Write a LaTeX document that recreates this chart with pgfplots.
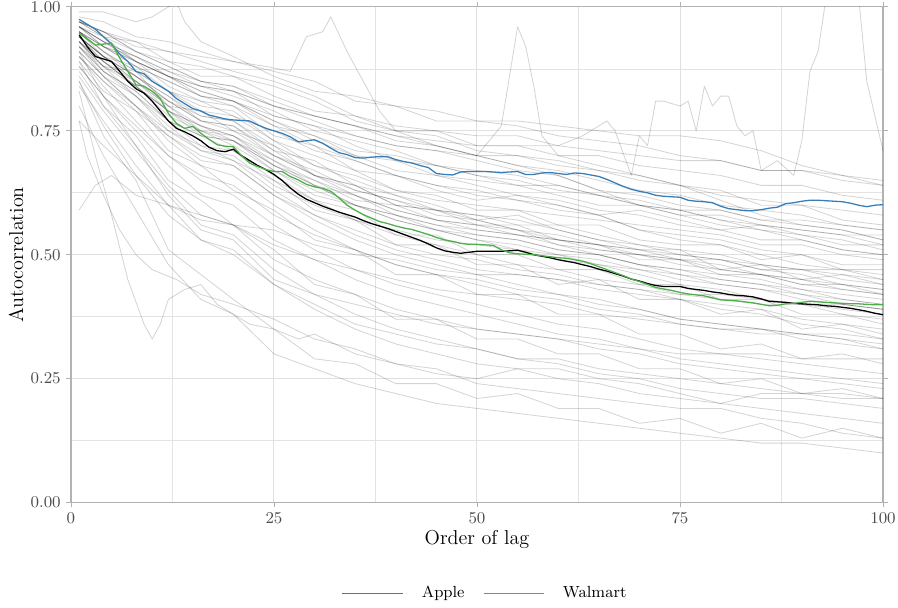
\documentclass[border=0pt]{standalone}
\usepackage{pgfplots}
\usepackage{pgfplotstable}
\pgfplotsset{compat=1.18}
\definecolor{appleblue}{HTML}{377EB8}
\definecolor{walgreen}{HTML}{4DAF4A}

% one row per stock, columns are the lags
\pgfplotstableread[header=has colnames]{
1 4 8 12 16 20 25 30 35 40 45 50 55 60 65 70 75 80 85 90 95 100
.98 .97 .94 .93 .91 .89 .87 .85 .81 .80 .77 .77 .76 .74 .73 .72 .70 .69 .67 .67 .65 .64
.97 .95 .92 .91 .89 .87 .85 .82 .78 .76 .75 .72 .72 .70 .70 .68 .67 .66 .64 .64 .62 .61
.97 .94 .93 .89 .88 .86 .84 .81 .77 .75 .74 .71 .70 .69 .67 .66 .64 .63 .60 .60 .57 .56
.96 .94 .91 .89 .86 .86 .82 .79 .78 .75 .75 .74 .74 .72 .71 .70 .69 .69 .67 .67 .66 .65
.97 .95 .91 .88 .85 .83 .80 .77 .74 .72 .71 .69 .67 .66 .63 .62 .60 .59 .57 .56 .55 .53
.95 .92 .90 .86 .84 .83 .78 .76 .72 .69 .68 .66 .64 .64 .62 .60 .59 .59 .57 .57 .56 .55
.96 .93 .89 .86 .83 .81 .77 .73 .70 .67 .66 .64 .62 .61 .59 .58 .56 .55 .53 .53 .51 .50
.95 .92 .88 .85 .82 .80 .76 .72 .69 .66 .64 .63 .61 .59 .58 .55 .53 .52 .50 .48 .47 .45
.96 .92 .89 .84 .81 .80 .74 .72 .67 .66 .63 .61 .62 .60 .58 .59 .57 .55 .56 .54 .52 .52
.94 .90 .88 .83 .80 .79 .73 .70 .67 .63 .62 .59 .59 .56 .56 .53 .52 .52 .49 .50 .47 .47
.95 .91 .87 .83 .79 .78 .73 .68 .65 .62 .59 .58 .57 .55 .53 .52 .50 .49 .47 .47 .45 .44
.94 .90 .86 .82 .78 .77 .72 .68 .66 .63 .61 .60 .59 .58 .57 .56 .55 .54 .52 .52 .50 .49
.93 .88 .87 .80 .79 .75 .72 .66 .64 .60 .59 .56 .56 .53 .52 .49 .49 .46 .46 .44 .44 .42
.95 .91 .86 .81 .77 .75 .70 .66 .62 .59 .57 .55 .54 .53 .51 .50 .49 .49 .48 .47 .47 .46
.94 .90 .85 .80 .76 .74 .69 .65 .62 .59 .57 .56 .54 .52 .50 .48 .46 .45 .44 .42 .41 .40
.93 .89 .85 .80 .75 .74 .68 .64 .60 .58 .55 .54 .53 .51 .50 .48 .47 .46 .45 .43 .42 .41
.92 .88 .84 .79 .75 .73 .68 .64 .60 .57 .55 .53 .51 .49 .48 .46 .44 .43 .41 .40 .38 .37
.94 .89 .84 .79 .74 .73 .67 .63 .60 .58 .56 .55 .54 .53 .52 .51 .50 .49 .47 .46 .44 .43
.93 .87 .83 .77 .74 .71 .66 .61 .59 .54 .54 .50 .50 .47 .47 .44 .44 .41 .41 .38 .38 .36
.92 .87 .82 .77 .72 .71 .65 .61 .57 .54 .52 .50 .48 .47 .45 .44 .42 .41 .40 .40 .39 .38
.91 .86 .82 .75 .72 .69 .65 .59 .57 .52 .52 .48 .48 .44 .45 .41 .41 .38 .39 .35 .36 .34
.93 .88 .82 .76 .71 .69 .63 .58 .54 .51 .49 .47 .46 .45 .43 .42 .41 .39 .38 .36 .35 .33
.90 .85 .80 .74 .69 .68 .62 .57 .53 .50 .48 .46 .44 .42 .41 .39 .37 .36 .35 .33 .32 .31
.92 .86 .80 .73 .68 .66 .60 .55 .51 .48 .46 .44 .42 .41 .39 .38 .36 .35 .34 .34 .33 .32
.89 .83 .79 .71 .68 .63 .59 .53 .51 .46 .46 .42 .42 .38 .38 .34 .34 .31 .32 .29 .30 .28
.90 .84 .77 .70 .65 .62 .56 .51 .47 .44 .42 .40 .38 .36 .35 .33 .31 .30 .29 .28 .27 .26
.88 .82 .75 .68 .62 .60 .53 .49 .45 .42 .40 .38 .36 .34 .33 .31 .29 .28 .27 .26 .25 .24
.87 .80 .74 .65 .61 .56 .51 .44 .42 .37 .37 .33 .33 .30 .30 .27 .27 .24 .25 .22 .23 .21
.86 .79 .71 .63 .56 .54 .47 .42 .38 .35 .33 .31 .29 .28 .26 .25 .23 .22 .21 .21 .20 .19
.84 .77 .68 .60 .53 .51 .44 .39 .35 .32 .30 .28 .27 .25 .24 .22 .21 .20 .19 .18 .17 .16
.85 .74 .65 .51 .46 .41 .35 .29 .28 .24 .24 .21 .22 .19 .19 .16 .17 .14 .16 .13 .15 .13
.80 .70 .59 .48 .41 .38 .30 .27 .24 .22 .20 .19 .18 .17 .16 .15 .14 .13 .12 .12 .11 .10
.91 .82 .72 .62 .55 .53 .45 .42 .40 .38 .36 .35 .34 .33 .32 .31 .30 .30 .30 .29 .29 .29
.77 .72 .66 .60 .57 .56 .52 .49 .47 .45 .43 .42 .41 .40 .38 .37 .36 .35 .35 .34 .34 .33
.96 .93 .90 .87 .84 .82 .79 .75 .73 .71 .68 .67 .66 .64 .62 .61 .59 .57 .56 .55 .54 .52
.95 .91 .87 .83 .81 .78 .75 .71 .69 .66 .64 .62 .61 .60 .58 .55 .54 .53 .51 .50 .48 .48
.94 .90 .86 .81 .78 .77 .71 .69 .64 .62 .60 .57 .58 .55 .53 .51 .51 .47 .48 .45 .46 .44
.97 .94 .89 .86 .82 .81 .76 .74 .70 .69 .66 .65 .64 .62 .60 .60 .58 .58 .56 .55 .54 .54
.93 .89 .84 .79 .76 .74 .70 .66 .63 .61 .59 .58 .56 .56 .54 .52 .51 .50 .48 .47 .46 .45
.95 .90 .86 .82 .77 .76 .71 .66 .64 .60 .59 .57 .55 .54 .52 .51 .49 .47 .46 .45 .43 .42
.96 .92 .88 .85 .82 .81 .77 .74 .71 .70 .68 .66 .65 .63 .62 .60 .59 .57 .55 .54 .53 .51
.94 .89 .84 .78 .75 .72 .67 .62 .60 .57 .55 .53 .52 .50 .49 .47 .46 .44 .43 .42 .40 .39
.92 .87 .83 .77 .74 .73 .68 .65 .61 .60 .57 .56 .55 .52 .51 .50 .48 .47 .46 .44 .43 .42
.95 .92 .89 .86 .84 .83 .80 .78 .76 .73 .72 .70 .68 .67 .65 .63 .62 .60 .59 .58 .56 .55
.93 .88 .85 .79 .76 .73 .69 .64 .62 .58 .56 .54 .53 .51 .50 .48 .47 .45 .44 .43 .41 .40
.91 .86 .80 .75 .71 .70 .64 .60 .57 .55 .53 .52 .51 .50 .48 .47 .45 .44 .43 .41 .40 .39
.96 .93 .90 .87 .85 .84 .81 .78 .76 .74 .72 .70 .70 .68 .67 .65 .64 .62 .61 .60 .59 .58
.94 .90 .85 .81 .77 .76 .70 .67 .63 .61 .58 .57 .55 .53 .52 .50 .49 .48 .46 .45 .44 .43
.90 .85 .79 .74 .70 .68 .62 .58 .55 .52 .50 .49 .47 .46 .44 .43 .41 .40 .39 .37 .36 .35
.88 .82 .76 .70 .66 .64 .58 .54 .51 .48 .46 .45 .43 .42 .40 .39 .37 .36 .35 .34 .33 .31
.89 .80 .72 .64 .58 .56 .49 .45 .42 .39 .37 .35 .34 .33 .31 .30 .28 .27 .26 .25 .24 .23
.85 .76 .66 .58 .53 .50 .44 .40 .36 .34 .32 .31 .29 .29 .27 .26 .25 .24 .23 .22 .22 .21
}\greyraw
\pgfplotstabletranspose{\greylines}{\greyraw}

\pgfplotsset{greyline/.style={draw=black, opacity=0.17, line width=0.45pt, line join=round, mark=none, forget plot}}

\begin{document}
\begin{tikzpicture}
\begin{axis}[
  scale only axis, width=444pt, height=271pt,
  xmin=0, xmax=100, ymin=0, ymax=1,
  xtick={0,25,50,75,100}, ytick={0,0.25,0.5,0.75,1},
  minor xtick={12.5,37.5,62.5,87.5}, minor ytick={0.125,0.375,0.625,0.875},
  grid=both,
  major grid style={draw=black!12, line width=0.55pt},
  minor grid style={draw=black!11, line width=0.35pt},
  axis line style={draw=black!30, line width=0.6pt},
  tick style={draw=black!30, line width=0.5pt},
  tick align=outside, major tick length=2.5pt, minor tick length=0pt,
  ticklabel style={font=\fontsize{8.8}{10}\selectfont, text=black!70, inner sep=0.5pt},
  xticklabel style={yshift=-2.4pt},
  yticklabel style={xshift=-2.4pt, /pgf/number format/.cd, fixed, fixed zerofill, precision=2},
  label style={font=\fontsize{11}{13}\selectfont},
  xlabel={Order of lag}, ylabel={Autocorrelation},
  legend style={at={(0.511,-0.183)}, anchor=center, draw=none, fill=none,
    font=\fontsize{8.8}{10}\selectfont,
    /tikz/every odd column/.append style={column sep=8pt},
    /tikz/every even column/.append style={column sep=8pt}},
  legend columns=2,
  legend image code/.code={\draw[#1, line width=0.8pt] (0pt,0pt) -- (33pt,0pt);},
  every axis plot/.append style={mark=none},
]
\coordinate (bl) at (rel axis cs:0,0);
\coordinate (tr) at (rel axis cs:1,1);

\pgfplotsinvokeforeach{0,...,51}{
  \addplot[greyline] table[x=colnames, y=#1] {\greylines};
}
% irregular stocks
\addplot[greyline] coordinates {(1,.59)(3,.64)(5,.66)(8,.62)(12,.60)(16,.58)(20,.56)(25,.55)(30,.52)(35,.50)(40,.49)(45,.47)(50,.46)(55,.46)(60,.45)(65,.44)(70,.43)(75,.42)(80,.42)(85,.41)(90,.40)(95,.40)(100,.39)};
\addplot[greyline] coordinates {(1,.83)(3,.70)(5,.58)(7,.45)(9,.36)(10,.33)(11,.36)(12,.41)(14,.43)(16,.44)(18,.40)(20,.38)(22,.36)(25,.35)(28,.33)(30,.34)(35,.30)(40,.28)(45,.26)(50,.25)(55,.27)(60,.27)(65,.25)(70,.24)(75,.22)(80,.20)(85,.22)(90,.22)(95,.21)(100,.21)};
\addplot[greyline] coordinates {(1,.77)(2,.70)(4,.62)(6,.55)(8,.50)(10,.47)(13,.45)(16,.42)(20,.40)(25,.37)(30,.33)(35,.31)(40,.28)(45,.27)(50,.24)(55,.23)(60,.22)(65,.21)(70,.20)(75,.19)(80,.19)(85,.17)(90,.16)(95,.14)(100,.13)};
\addplot[greyline] coordinates {(1,.97)(4,.95)(8,.93)(12,.91)(16,.90)(20,.89)(24,.88)(27,.87)(29,.94)(31,.95)(32,.98)(34,.91)(36,.85)(38,.79)(40,.75)(45,.72)(50,.70)(55,.68)(60,.66)(65,.63)(70,.60)(75,.58)(80,.56)(85,.55)(90,.53)(95,.51)(100,.50)};
\addplot[greyline] coordinates {(1,.96)(4,.93)(8,.89)(12,.86)(16,.83)(20,.81)(25,.78)(30,.76)(35,.74)(40,.72)(45,.71)(50,.70)(53,.76)(54,.86)(55,.96)(56,.92)(57,.84)(58,.74)(60,.70)(65,.68)(70,.66)(75,.64)(80,.61)(85,.58)(90,.56)(95,.55)(100,.53)};
\addplot[greyline] coordinates {(1,.97)(4,.95)(8,.91)(12,.88)(16,.85)(20,.84)(25,.80)(30,.78)(35,.76)(40,.74)(45,.73)(50,.72)(55,.72)(60,.72)(63,.74)(66,.77)(67,.75)(69,.66)(70,.74)(71,.72)(72,.81)(73,.81)(75,.80)(76,.81)(77,.75)(78,.84)(79,.80)(80,.82)(81,.82)(82,.76)(83,.74)(84,.75)(85,.67)(87,.69)(89,.66)(90,.73)(91,.87)(92,.91)(93,1.02)(95,1.1)(97,1.02)(98,.85)(100,.71)};
\addplot[greyline] coordinates {(1,.99)(4,.99)(8,.97)(10,.98)(12,1.0)(13,1.01)(14,.97)(16,.93)(20,.90)(25,.86)(30,.83)(35,.82)(40,.80)(45,.79)(50,.77)(55,.77)(60,.76)(65,.75)(70,.74)(75,.74)(80,.73)(85,.71)(90,.68)(95,.66)(100,.64)};

% mean of all stocks
\addplot[black, line width=0.7pt, forget plot] coordinates {(1,0.944)(2,0.92)(3,0.9)(4,0.895)(5,0.89)(6,0.87)(7,0.85)(8,0.835)(9,0.826)(10,0.81)(11,0.79)(12,0.77)(13,0.755)(14,0.748)(15,0.74)(16,0.73)(17,0.717)(18,0.71)(19,0.708)(20,0.713)(21,0.7)(22,0.69)(23,0.68)(24,0.672)(25,0.662)(26,0.65)(27,0.635)(28,0.622)(29,0.612)(30,0.605)(31,0.598)(32,0.592)(33,0.586)(34,0.581)(35,0.576)(36,0.569)(37,0.563)(38,0.558)(39,0.553)(40,0.547)(41,0.541)(42,0.535)(43,0.529)(44,0.522)(45,0.514)(46,0.508)(47,0.505)(48,0.503)(49,0.505)(50,0.507)(51,0.507)(52,0.507)(53,0.507)(54,0.508)(55,0.509)(56,0.505)(57,0.5)(58,0.497)(59,0.494)(60,0.49)(61,0.487)(62,0.484)(63,0.48)(64,0.476)(65,0.471)(66,0.467)(67,0.462)(68,0.457)(69,0.451)(70,0.447)(71,0.442)(72,0.438)(73,0.436)(74,0.436)(75,0.436)(76,0.432)(77,0.43)(78,0.428)(79,0.425)(80,0.423)(81,0.42)(82,0.418)(83,0.417)(84,0.415)(85,0.411)(86,0.406)(87,0.405)(88,0.404)(89,0.402)(90,0.401)(91,0.4)(92,0.399)(93,0.397)(94,0.396)(95,0.394)(96,0.392)(97,0.389)(98,0.386)(99,0.382)(100,0.379)};

\addplot[appleblue, line width=0.7pt] coordinates {(1,0.975)(2,0.965)(3,0.955)(4,0.94)(5,0.925)(6,0.905)(7,0.89)(8,0.87)(9,0.865)(10,0.85)(11,0.84)(12,0.83)(13,0.815)(14,0.805)(15,0.795)(16,0.79)(17,0.782)(18,0.778)(19,0.774)(20,0.772)(21,0.771)(22,0.77)(23,0.762)(24,0.755)(25,0.75)(26,0.745)(27,0.738)(28,0.728)(29,0.73)(30,0.732)(31,0.725)(32,0.715)(33,0.706)(34,0.702)(35,0.696)(36,0.695)(37,0.697)(38,0.698)(39,0.698)(40,0.692)(41,0.688)(42,0.685)(43,0.68)(44,0.676)(45,0.664)(46,0.662)(47,0.661)(48,0.667)(49,0.668)(50,0.668)(51,0.668)(52,0.667)(53,0.666)(54,0.667)(55,0.668)(56,0.662)(57,0.662)(58,0.665)(59,0.666)(60,0.664)(61,0.662)(62,0.665)(63,0.664)(64,0.661)(65,0.658)(66,0.652)(67,0.645)(68,0.638)(69,0.632)(70,0.628)(71,0.625)(72,0.62)(73,0.618)(74,0.617)(75,0.616)(76,0.61)(77,0.608)(78,0.607)(79,0.605)(80,0.598)(81,0.593)(82,0.591)(83,0.589)(84,0.589)(85,0.591)(86,0.594)(87,0.596)(88,0.603)(89,0.605)(90,0.608)(91,0.61)(92,0.61)(93,0.609)(94,0.608)(95,0.607)(96,0.604)(97,0.6)(98,0.597)(99,0.6)(100,0.601)};
\addlegendentry{Apple}

\addplot[walgreen, line width=0.7pt] coordinates {(1,0.947)(2,0.935)(3,0.923)(4,0.925)(5,0.927)(6,0.897)(7,0.87)(8,0.843)(9,0.840)(10,0.83)(11,0.815)(12,0.785)(13,0.765)(14,0.755)(15,0.759)(16,0.745)(17,0.733)(18,0.722)(19,0.719)(20,0.718)(21,0.70)(22,0.685)(23,0.678)(24,0.672)(25,0.668)(26,0.668)(27,0.658)(28,0.651)(29,0.642)(30,0.637)(31,0.634)(32,0.628)(33,0.615)(34,0.6)(35,0.59)(36,0.581)(37,0.574)(38,0.567)(39,0.563)(40,0.558)(41,0.554)(42,0.551)(43,0.546)(44,0.541)(45,0.535)(46,0.53)(47,0.527)(48,0.523)(49,0.521)(50,0.521)(51,0.52)(52,0.519)(53,0.51)(54,0.504)(55,0.502)(56,0.501)(57,0.5)(58,0.498)(59,0.496)(60,0.494)(61,0.493)(62,0.49)(63,0.487)(64,0.482)(65,0.476)(66,0.47)(67,0.464)(68,0.458)(69,0.451)(70,0.446)(71,0.44)(72,0.434)(73,0.431)(74,0.428)(75,0.424)(76,0.421)(77,0.419)(78,0.417)(79,0.413)(80,0.409)(81,0.408)(82,0.407)(83,0.405)(84,0.403)(85,0.4)(86,0.397)(87,0.398)(88,0.401)(89,0.402)(90,0.404)(91,0.406)(92,0.405)(93,0.404)(94,0.403)(95,0.402)(96,0.401)(97,0.401)(98,0.4)(99,0.399)(100,0.399)};
\addlegendentry{Walmart}
\end{axis}
\path (bl) ++(-38.8pt,-56.3pt) coordinate (pa);
\path (tr) ++(8.2pt,3.8pt) coordinate (pb);
\path (pa) rectangle (pb);
\end{tikzpicture}
\end{document}
